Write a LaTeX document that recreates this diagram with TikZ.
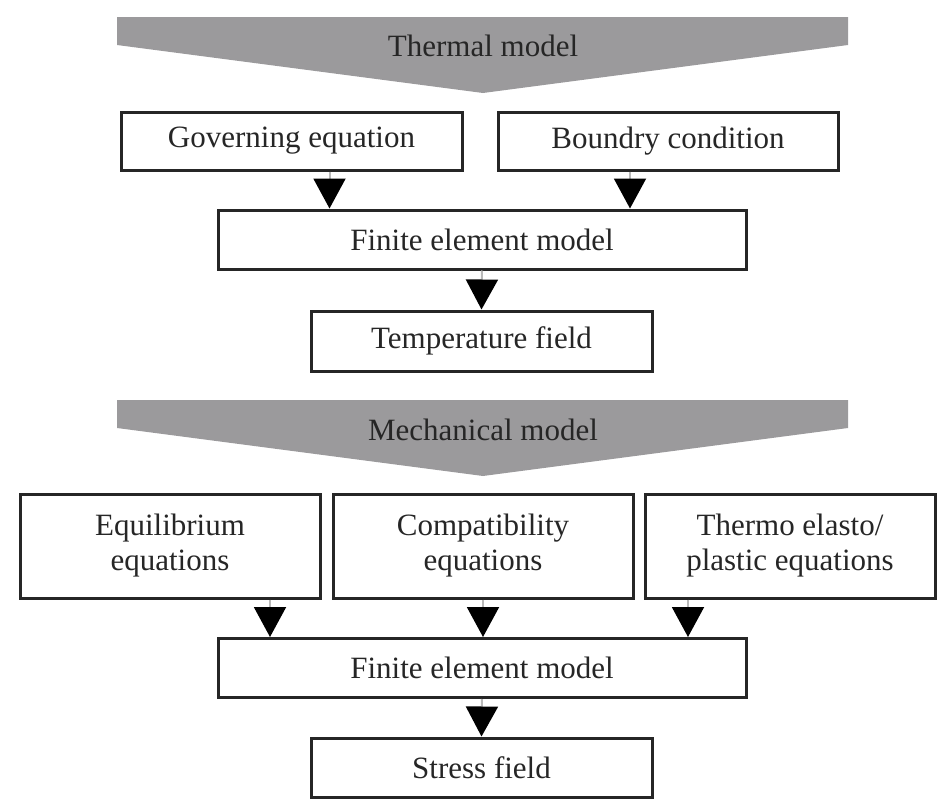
\documentclass[tikz,border=0pt]{standalone}
\usepackage{fontspec}
\setmainfont{Liberation Serif}
\usetikzlibrary{arrows.meta}
\definecolor{bannergray}{RGB}{155,154,156}

\begin{document}
\begin{tikzpicture}[x=0.5pt,y=-0.5pt,
    box/.style={draw=black!85, line width=1.5pt, fill=white, align=center,
      inner sep=0pt, text=black!85, font=\fontsize{15.5}{17.5}\selectfont},
    flow/.style={draw=gray!55, line width=1pt,
      -{Triangle[width=16pt,length=15pt,black]}},
    bannertext/.style={text=black!85, font=\fontsize{15.5}{17.5}\selectfont}]
    \useasboundingbox (0,0) rectangle (938,803);

      % Thermal model
      \fill[bannergray] (117,17) -- (848,17) -- (848,45) -- (483,93) -- (117,45) -- cycle;
      \node[bannertext] (thermal) at (483,46) {Thermal model};

      \node[box, minimum width=170.5pt, minimum height=29pt] (gov) at (291.5,141) {Governing equation};
      \node[box, minimum width=170pt, minimum height=29pt] (bnd) at (668,141) {Boundry condition};
      \node[box, minimum width=264pt, minimum height=29.5pt] (fem1) at (482,239.5) {Finite element model};
      \node[box, minimum width=170.5pt, minimum height=30pt] (temp) at (481.5,341) {Temperature field};

      \draw[flow] ([xshift=19pt]gov.south) -- ([xshift=19pt]gov.south |- fem1.north);
      \draw[flow] ([xshift=-19pt]bnd.south) -- ([xshift=-19pt]bnd.south |- fem1.north);
      \draw[flow] (fem1.south) -- (temp.north);

      % Mechanical model
      \fill[bannergray] (117,400) -- (848,400) -- (848,428) -- (483,476) -- (117,428) -- cycle;
      \node[bannertext] (mech) at (483,430) {Mechanical model};

      \node[box, minimum width=150pt, minimum height=52pt] (equ) at (170,546) {Equilibrium\\equations};
      \node[box, minimum width=150pt, minimum height=52pt] (comp) at (483,546) {Compatibility\\equations};
      \node[box, minimum width=145pt, minimum height=52pt] (thermo) at (790,546) {Thermo elasto/\\plastic equations};
      \node[box, minimum width=264pt, minimum height=29.5pt] (fem2) at (482,668) {Finite element model};
      \node[box, minimum width=170.5pt, minimum height=29.5pt] (stress) at (481.5,767.5) {Stress field};

      \draw[flow] ([xshift=50pt]equ.south) -- ([xshift=50pt]equ.south |- fem2.north);
      \draw[flow] (comp.south) -- (comp.south |- fem2.north);
      \draw[flow] ([xshift=-51pt]thermo.south) -- ([xshift=-51pt]thermo.south |- fem2.north);
      \draw[flow] (fem2.south) -- (stress.north);
  \end{tikzpicture}
\end{document}
